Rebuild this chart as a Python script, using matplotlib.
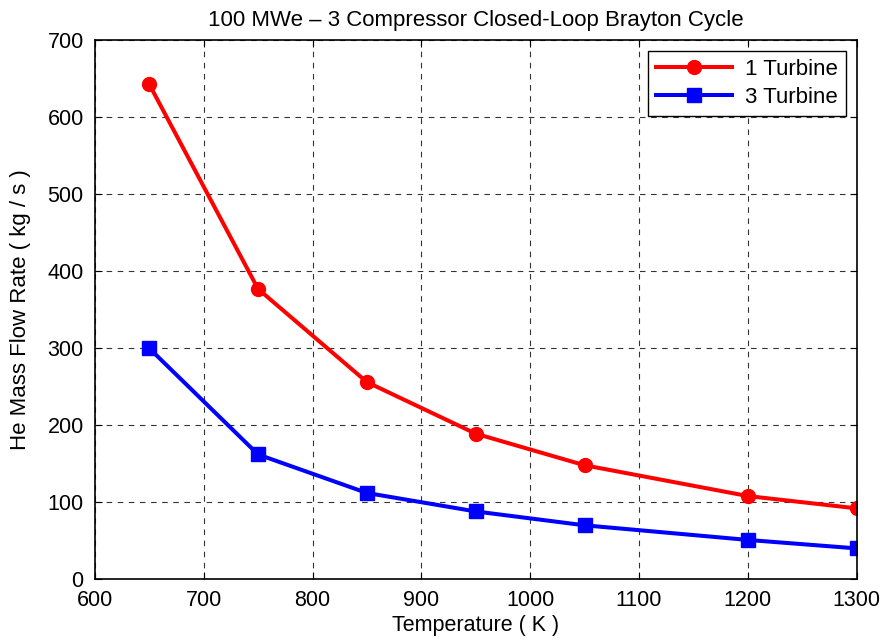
import matplotlib
matplotlib.use("Agg")
import matplotlib.pyplot as plt

plt.rcParams['font.family'] = ['Liberation Sans', 'DejaVu Sans']

temps = [650, 750, 850, 950, 1050, 1200, 1300]
one_turbine = [643, 377, 256, 189, 148, 108, 92]
three_turbine = [300, 162, 112, 88, 70, 51, 40]

fig = plt.figure(figsize=(8.86, 6.4), dpi=100)
ax = fig.add_axes([0.107, 0.095, 0.86, 0.842])

ax.plot(temps, one_turbine, color='red', marker='o', linewidth=2.9, markersize=10, label='1 Turbine')
ax.plot(temps, three_turbine, color='blue', marker='s', linewidth=2.9, markersize=10, label='3 Turbine')

ax.set_xlim(600, 1300)
ax.set_ylim(0, 700)
ax.set_xticks(range(600, 1301, 100))
ax.set_yticks(range(0, 701, 100))
ax.grid(True, color='black', linestyle=(0, (5, 5)), linewidth=0.8, alpha=0.8)
ax.tick_params(direction='in', top=True, right=True, labelsize=15.5, length=5)
ax.tick_params(axis='x', pad=8)
ax.tick_params(axis='y', pad=8)
for s in ax.spines.values():
    s.set_linewidth(1.2)

ax.set_title('100 MWe \u2013 3 Compressor Closed-Loop Brayton Cycle', fontsize=16, pad=10)
ax.set_xlabel('Temperature ( K )', fontsize=15.5, labelpad=3)
ax.set_ylabel('He Mass Flow Rate ( kg / s )', fontsize=16, labelpad=12)

leg = ax.legend(loc='upper right', fontsize=16, fancybox=False, edgecolor='black',
                framealpha=1, handlelength=3.4, borderaxespad=0.5,
                borderpad=0.35, labelspacing=0.3, handletextpad=0.6)
leg.get_frame().set_linewidth(1.0)

fig.savefig('out.png', dpi=100)
